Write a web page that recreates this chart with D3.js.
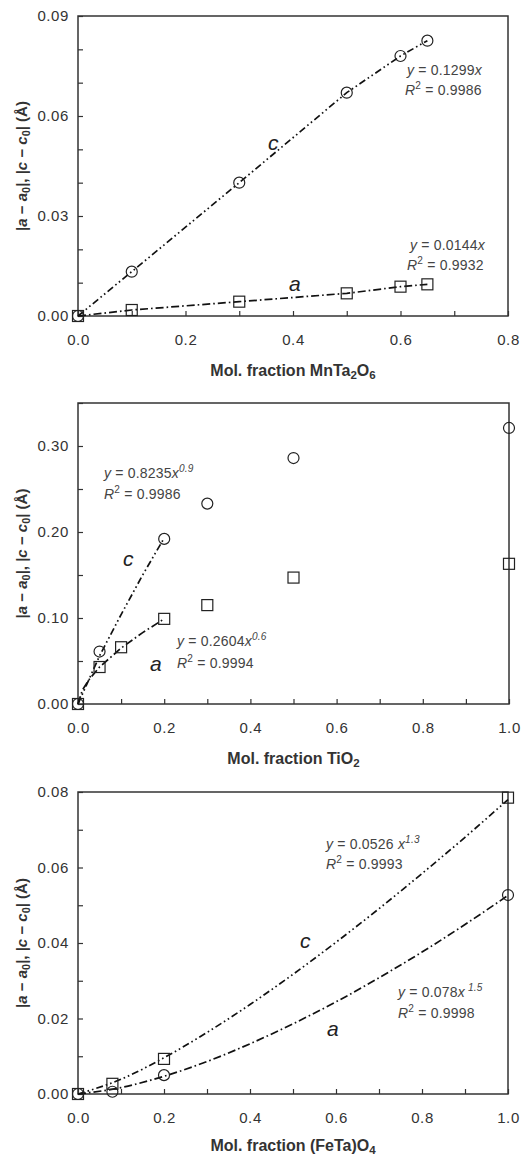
<!DOCTYPE html>
<html>
<head>
<meta charset="utf-8">
<script src="https://cdn.jsdelivr.net/npm/d3@7"></script>
<style>
  body { margin: 0; background: #fff; }
  svg { font-family: "Liberation Sans", Arial, sans-serif; }
</style>
</head>
<body>
<div id="chart"></div>
<script>
// ---- data ----

// panel 1: MnTa2O6
const mnX = [0, 0.1, 0.3, 0.5, 0.6, 0.65];
const mnC = [0, 0.0133, 0.040, 0.067, 0.078, 0.0826];
const mnA = [0, 0.0018, 0.0043, 0.0068, 0.0088, 0.0095];

// panel 2: TiO2
const tiCX = [0, 0.05, 0.2, 0.3, 0.5, 1.0];
const tiCY = [0, 0.061, 0.192, 0.233, 0.286, 0.321];
const tiAX = [0, 0.05, 0.1, 0.2, 0.3, 0.5, 1.0];
const tiAY = [0, 0.043, 0.066, 0.099, 0.115, 0.147, 0.163];
const tiCFitX = [0, 0.05, 0.1, 0.15, 0.2];
const tiCFitY = [0, 0.056, 0.104, 0.150, 0.193];
const tiAFitX = [0, 0.01, 0.025, 0.05, 0.1, 0.15, 0.2];
const tiAFitY = [0, 0.016, 0.028, 0.043, 0.065, 0.083, 0.099];

// panel 3: (FeTa)O4
const feX = [0, 0.08, 0.2, 1.0];
const feC = [0, 0.0027, 0.0093, 0.0785];   // squares
const feA = [0, 0.0006, 0.005, 0.0527];    // circles
const feCurveX = [0, 0.1, 0.2, 0.3, 0.4, 0.5, 0.6, 0.7, 0.8, 0.9, 1.0];
const feCurveC = [0, 0.0039, 0.0096, 0.0163, 0.0237, 0.0317, 0.0402, 0.0491, 0.0584, 0.0680, 0.078];
const feCurveA = [0, 0.0017, 0.0047, 0.0086, 0.0133, 0.0186, 0.0244, 0.0308, 0.0376, 0.0449, 0.0526];

// ticks
const xTicks8 = [0, 0.1, 0.2, 0.3, 0.4, 0.5, 0.6, 0.7, 0.8];
const xTicks10 = [0, 0.1, 0.2, 0.3, 0.4, 0.5, 0.6, 0.7, 0.8, 0.9, 1.0];
const yTicks1 = [0, 0.01, 0.02, 0.03, 0.04, 0.05, 0.06, 0.07, 0.08, 0.09];
const yLabels1 = [0, 0.03, 0.06, 0.09];
const yTicks2 = [0, 0.05, 0.10, 0.15, 0.20, 0.25, 0.30, 0.35];
const yLabels2 = [0, 0.10, 0.20, 0.30];
const yTicks3 = [0, 0.01, 0.02, 0.03, 0.04, 0.05, 0.06, 0.07, 0.08];
const yLabels3 = [0, 0.02, 0.04, 0.06, 0.08];

const W = 524, H = 1158;
const svg = d3.select("#chart").append("svg")
    .attr("width", W).attr("height", H);

const DASH_C = "7,3,1.6,3,1.6,3";   // dash-dot-dot
const DASH_A = "8,3,1.6,3";         // dash-dot

// append text made of styled pieces
function richText(g, parts, attrs, size) {
    let t = g.append("text");
    Object.entries(attrs).forEach(([k, v]) => t.attr(k, v));
    let shift = 0;
    parts.forEach(p => {
        let s = t.append("tspan").text(p.t);
        let target = p.sub ? 0.2 * size : (p.sup ? -0.42 * size : 0);
        if (target !== shift) { s.attr("dy", target - shift); shift = target; }
        if (p.italic) s.attr("font-style", "italic");
        if (p.sub || p.sup) s.attr("font-size", size * 0.72);
    });
    return t;
}

function zip(xs, ys) { return xs.map((x, i) => [x, ys[i]]); }

function panel(cfg) {
    let g = svg.append("g");
    let x = d3.scaleLinear().domain(cfg.xDomain).range([cfg.left, cfg.right]);
    let y = d3.scaleLinear().domain(cfg.yDomain).range([cfg.bottom, cfg.top]);

    // axes with inside ticks
    let yAxis = d3.axisLeft(y).tickValues(cfg.yTicks).tickSize(-5).tickPadding(9)
        .tickFormat(d => cfg.yLabels.some(v => Math.abs(v - d) < 1e-9) ? d3.format(".2f")(d) : "");
    let xAxis = d3.axisBottom(x).tickValues(cfg.xTicks).tickSize(-5).tickPadding(18)
        .tickFormat((d, i) => i % 2 === 0 ? d3.format(".1f")(d) : "");

    let ya = g.append("g").attr("transform", `translate(${cfg.left},0)`).call(yAxis);
    let xa = g.append("g").attr("transform", `translate(0,${cfg.bottom})`).call(xAxis);
    [ya, xa].forEach(a => {
        a.select(".domain").remove();
        a.selectAll("line").attr("stroke", "#333").attr("stroke-width", 1.2);
        a.selectAll("text").attr("fill", "#333").attr("font-size", 15)
            .attr("letter-spacing", 0.6).attr("font-family", "Liberation Sans, Arial, sans-serif");
    });

    g.append("rect")
        .attr("x", cfg.left).attr("y", cfg.top)
        .attr("width", cfg.right - cfg.left).attr("height", cfg.bottom - cfg.top)
        .attr("fill", "none").attr("stroke", "#333").attr("stroke-width", 1.5);

    // lines
    let line = d3.line().x(d => x(d[0])).y(d => y(d[1])).curve(cfg.curve || d3.curveLinear);
    cfg.lines.forEach(l => {
        g.append("path").attr("d", line(l.pts))
            .attr("fill", "none").attr("stroke", "#111").attr("stroke-width", 1.7)
            .attr("stroke-dasharray", l.dash);
    });

    // markers
    cfg.circles.forEach(p => {
        g.append("circle").attr("cx", x(p[0])).attr("cy", y(p[1])).attr("r", 5.5)
            .attr("fill", "none").attr("stroke", "#222").attr("stroke-width", 1.2);
    });
    cfg.squares.forEach(p => {
        g.append("rect").attr("x", x(p[0]) - 5.5).attr("y", y(p[1]) - 5.5)
            .attr("width", 11).attr("height", 11)
            .attr("fill", "none").attr("stroke", "#222").attr("stroke-width", 1.2);
    });

    // y axis title
    let ly = (cfg.top + cfg.bottom) / 2;
    richText(g, [
        {t: "|"}, {t: "a", italic: true}, {t: " − "}, {t: "a", italic: true}, {t: "0", sub: true},
        {t: "|, |"}, {t: "c", italic: true}, {t: " − "}, {t: "c", italic: true}, {t: "0", sub: true},
        {t: "| (Å)"}
    ], {transform: `translate(27,${ly}) rotate(-90)`, "text-anchor": "middle",
        "font-size": 15, "font-weight": "bold", fill: "#333"}, 15);

    // x axis title
    richText(g, cfg.xTitle, {x: (cfg.left + cfg.right) / 2, y: cfg.bottom + cfg.titleGap,
        "text-anchor": "middle", "font-size": 16, "font-weight": "bold", fill: "#333"}, 16);

    // annotations
    cfg.notes.forEach(n => {
        let t = richText(g, n.parts, {x: n.x, y: n.y, "font-size": n.size || 14, fill: n.fill || "#444"}, n.size || 14);
        if (!n.size) t.attr("letter-spacing", 0.2);
    });
}

function eq(coef, exp) {
    let p = [{t: "y", italic: true}, {t: " = " + coef}, {t: "x", italic: true}];
    if (exp) p.push({t: exp, sup: true, italic: true});
    return p;
}
function r2(v) { return [{t: "R", italic: true}, {t: "2", sup: true}, {t: " = " + v}]; }
function big(s) { return [{t: s, italic: true}]; }

panel({
    left: 78, right: 508, top: 16, bottom: 316, titleGap: 60,
    xDomain: [0, 0.8], yDomain: [0, 0.09],
    xTicks: xTicks8, yTicks: yTicks1, yLabels: yLabels1,
    lines: [{pts: zip(mnX, mnC), dash: DASH_C}, {pts: zip(mnX, mnA), dash: DASH_A}],
    circles: zip(mnX, mnC), squares: zip(mnX, mnA),
    xTitle: [{t: "Mol. fraction MnTa"}, {t: "2", sub: true}, {t: "O"}, {t: "6", sub: true}],
    notes: [
        {x: 407, y: 75, parts: eq("0.1299")},
        {x: 405, y: 95, parts: r2("0.9986")},
        {x: 410, y: 250, parts: eq("0.0144")},
        {x: 407, y: 270, parts: r2("0.9932")},
        {x: 268, y: 150, parts: big("c"), size: 21, fill: "#222"},
        {x: 289, y: 291, parts: big("a"), size: 21, fill: "#222"}
    ]
});

panel({
    left: 78, right: 509, top: 403, bottom: 704, titleGap: 60,
    xDomain: [0, 1], yDomain: [0, 0.35],
    xTicks: xTicks10, yTicks: yTicks2, yLabels: yLabels2,
    lines: [{pts: zip(tiCFitX, tiCFitY), dash: DASH_C}, {pts: zip(tiAFitX, tiAFitY), dash: DASH_A}],
    circles: zip(tiCX, tiCY), squares: zip(tiAX, tiAY),
    xTitle: [{t: "Mol. fraction TiO"}, {t: "2", sub: true}],
    notes: [
        {x: 104, y: 478, parts: eq("0.8235", "0.9")},
        {x: 104, y: 499, parts: r2("0.9986")},
        {x: 177, y: 646, parts: eq("0.2604", "0.6")},
        {x: 177, y: 668, parts: r2("0.9994")},
        {x: 123, y: 566, parts: big("c"), size: 21, fill: "#222"},
        {x: 150, y: 671, parts: big("a"), size: 21, fill: "#222"}
    ]
});

panel({
    left: 78, right: 508, top: 792, bottom: 1094, titleGap: 57,
    xDomain: [0, 1], yDomain: [0, 0.08],
    xTicks: xTicks10, yTicks: yTicks3, yLabels: yLabels3,
    curve: d3.curveMonotoneX,
    lines: [{pts: zip(feCurveX, feCurveC), dash: DASH_C}, {pts: zip(feCurveX, feCurveA), dash: DASH_A}],
    circles: zip(feX, feA), squares: zip(feX, feC),
    xTitle: [{t: "Mol. fraction (FeTa)O"}, {t: "4", sub: true}],
    notes: [
        {x: 326, y: 849, parts: eq("0.0526 ", "1.3")},
        {x: 326, y: 869, parts: r2("0.9993")},
        {x: 398, y: 997, parts: eq("0.078", " 1.5")},
        {x: 398, y: 1018, parts: r2("0.9998")},
        {x: 300, y: 948, parts: big("c"), size: 21, fill: "#222"},
        {x: 327, y: 1036, parts: big("a"), size: 21, fill: "#222"}
    ]
});
</script>
</body>
</html>
